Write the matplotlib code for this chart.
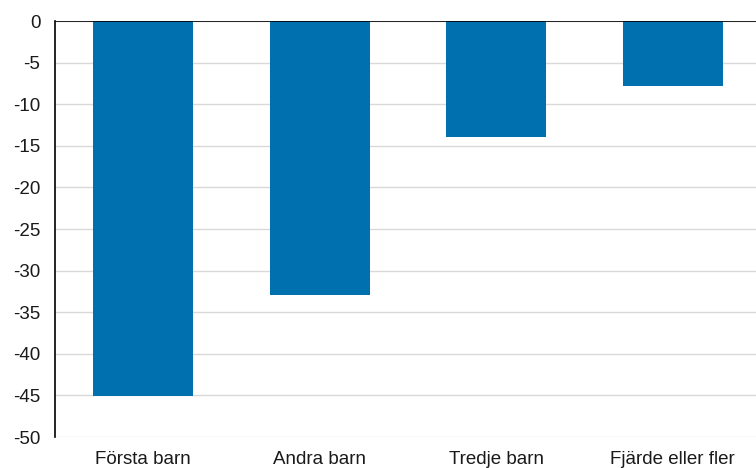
import numpy as np
import matplotlib
matplotlib.use('Agg')
import matplotlib.pyplot as plt

plt.rcParams['font.family'] = ['Liberation Sans', 'DejaVu Sans']

kategorier = ['Första barn', 'Andra barn', 'Tredje barn', 'Fjärde eller fler']
varden = [-45.1, -32.9, -13.9, -7.8]
yticks = list(range(0, -55, -5))

fig = plt.figure(figsize=(7.56, 4.68), dpi=100)
ax = fig.add_axes([55/756, 1 - 437/468, 701/756, (437 - 21)/468])

x = np.arange(len(kategorier))
ax.bar(x, varden, width=0.567, color='#0070AF', zorder=3)

ax.set_ylim(-50, 0)
ax.set_xlim(-0.5, -0.5 + 701/176.5)
ax.set_yticks(yticks)
ax.set_yticklabels([str(v) for v in yticks])
ax.set_xticks(x)
ax.set_xticklabels(kategorier)

ax.grid(axis='y', color='#d9d9d9', linewidth=1, zorder=0)
ax.axhline(0, color='black', linewidth=1.2, zorder=4)

for s in ['right', 'bottom', 'top']:
    ax.spines[s].set_visible(False)
ax.spines['left'].set_color('black')
ax.spines['left'].set_linewidth(1.2)

ax.tick_params(axis='both', length=0, labelsize=13.5, colors='#1a1a1a')
ax.tick_params(axis='y', pad=10.5)
ax.tick_params(axis='x', pad=10)

fig.savefig('out.png', dpi=100)
